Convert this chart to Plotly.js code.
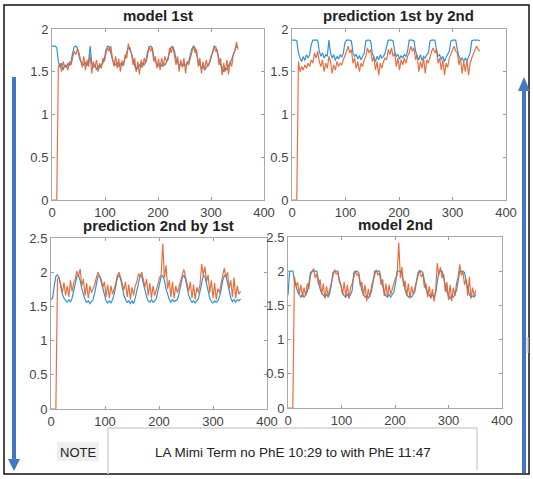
<!DOCTYPE html>
<html>
<head>
<meta charset="utf-8">
<script src="https://cdn.plot.ly/plotly-3.0.1.min.js"></script>
<style>
  html, body { margin: 0; padding: 0; background: #fff; }
  #chart { width: 533px; height: 479px; }
</style>
</head>
<body>
<div id="chart"></div>
<script>
// Sample positions shared by every series
const samples = [
  0,3,6,9,12,15,18,21,24,27,
  30,33,36,39,42,45,48,51,54,57,
  60,63,66,69,72,75,78,81,84,87,
  90,93,96,99,102,105,108,111,114,117,
  120,123,126,129,132,135,138,141,144,147,
  150,153,156,159,162,165,168,171,174,177,
  180,183,186,189,192,195,198,201,204,207,
  210,213,216,219,222,225,228,231,234,237,
  240,243,246,249,252,255,258,261,264,267,
  270,273,276,279,282,285,288,291,294,297,
  300,303,306,309,312,315,318,321,324,327,
  330,333,336,339,342,345,348,351
];

// model 1st
const model1Blue = [
  1.80,1.80,1.80,1.78,1.62,1.55,1.60,1.52,1.58,1.55,
  1.60,1.57,1.62,1.72,1.79,1.80,1.78,1.68,1.62,1.60,
  1.58,1.61,1.57,1.62,1.80,1.60,1.55,1.58,1.52,1.57,
  1.55,1.58,1.60,1.66,1.76,1.80,1.79,1.72,1.64,1.60,
  1.58,1.61,1.56,1.60,1.57,1.60,1.66,1.74,1.78,1.78,
  1.70,1.62,1.57,1.52,1.56,1.58,1.55,1.60,1.58,1.63,
  1.72,1.78,1.80,1.78,1.68,1.62,1.59,1.57,1.60,1.56,
  1.60,1.58,1.61,1.66,1.74,1.79,1.79,1.74,1.65,1.60,
  1.57,1.60,1.56,1.59,1.57,1.60,1.62,1.70,1.77,1.80,
  1.78,1.70,1.62,1.58,1.54,1.57,1.52,1.55,1.58,1.60,
  1.66,1.75,1.80,1.79,1.72,1.63,1.58,1.55,1.50,1.55,
  1.52,1.57,1.60,1.64,1.70,1.76,1.80,1.78
];
const model1Orange = [
  0,0,0,0,1.55,1.60,1.50,1.62,1.55,1.58,
  1.52,1.62,1.58,1.66,1.74,1.70,1.77,1.72,1.65,1.55,
  1.68,1.52,1.64,1.56,1.70,1.48,1.62,1.55,1.64,1.50,
  1.60,1.54,1.66,1.62,1.72,1.78,1.74,1.80,1.66,1.56,
  1.68,1.54,1.65,1.50,1.63,1.57,1.70,1.66,1.83,1.75,
  1.72,1.58,1.66,1.50,1.62,1.47,1.64,1.55,1.66,1.60,
  1.68,1.80,1.74,1.78,1.62,1.68,1.54,1.65,1.52,1.66,
  1.56,1.68,1.62,1.64,1.78,1.72,1.80,1.70,1.58,1.68,
  1.50,1.64,1.55,1.66,1.48,1.62,1.58,1.66,1.74,1.80,
  1.72,1.76,1.56,1.66,1.48,1.62,1.52,1.64,1.56,1.60,
  1.68,1.72,1.79,1.74,1.76,1.58,1.66,1.46,1.60,1.50,
  1.64,1.47,1.62,1.56,1.70,1.74,1.85,1.76
];

// prediction 1st by 2nd
const pred1Blue = [
  1.87,1.87,1.87,1.86,1.72,1.66,1.62,1.68,1.63,1.70,
  1.66,1.70,1.82,1.87,1.87,1.87,1.87,1.74,1.68,1.72,
  1.66,1.70,1.68,1.87,1.72,1.66,1.70,1.63,1.68,1.65,
  1.70,1.67,1.72,1.84,1.87,1.87,1.87,1.86,1.72,1.68,
  1.70,1.65,1.69,1.64,1.68,1.72,1.86,1.87,1.87,1.86,
  1.72,1.66,1.62,1.68,1.64,1.70,1.66,1.68,1.72,1.80,
  1.87,1.87,1.87,1.86,1.74,1.68,1.70,1.65,1.69,1.66,
  1.70,1.68,1.74,1.87,1.87,1.87,1.86,1.74,1.68,1.64,
  1.70,1.63,1.68,1.66,1.70,1.72,1.86,1.87,1.87,1.87,
  1.76,1.68,1.70,1.64,1.68,1.62,1.67,1.70,1.74,1.86,
  1.87,1.87,1.87,1.76,1.68,1.64,1.66,1.62,1.66,1.63,
  1.68,1.72,1.86,1.87,1.87,1.87,1.87,1.86
];
const pred1Orange = [
  0,0,0,0,1.62,1.50,1.56,1.52,1.58,1.54,
  1.60,1.56,1.64,1.60,1.72,1.66,1.74,1.62,1.56,1.64,
  1.50,1.60,1.54,1.68,1.62,1.48,1.58,1.52,1.62,1.56,
  1.60,1.58,1.64,1.68,1.74,1.80,1.72,1.76,1.60,1.66,
  1.54,1.62,1.50,1.60,1.56,1.64,1.68,1.78,1.72,1.76,
  1.62,1.68,1.52,1.62,1.46,1.60,1.54,1.62,1.66,1.64,
  1.76,1.70,1.78,1.68,1.72,1.56,1.66,1.52,1.64,1.58,
  1.66,1.60,1.68,1.72,1.80,1.74,1.78,1.64,1.70,1.50,
  1.62,1.54,1.66,1.48,1.64,1.60,1.68,1.74,1.78,1.72,
  1.76,1.60,1.66,1.52,1.64,1.46,1.60,1.55,1.66,1.70,
  1.76,1.80,1.74,1.72,1.58,1.66,1.48,1.62,1.50,1.64,
  1.46,1.60,1.66,1.70,1.74,1.80,1.76,1.74
];

// prediction 2nd by 1st
const pred2Blue = [
  1.60,1.62,1.80,1.94,1.96,1.92,1.80,1.68,1.62,1.58,
  1.56,1.60,1.56,1.62,1.72,1.84,1.94,1.95,1.88,1.76,
  1.66,1.60,1.56,1.58,1.54,1.58,1.60,1.70,1.84,1.94,
  1.95,1.86,1.74,1.64,1.58,1.55,1.58,1.55,1.60,1.68,
  1.80,1.92,1.96,1.90,1.78,1.66,1.60,1.56,1.58,1.54,
  1.58,1.54,1.62,1.74,1.88,1.95,1.94,1.84,1.72,1.64,
  1.58,1.56,1.60,1.56,1.58,1.62,1.72,1.82,1.94,1.95,
  1.88,1.76,1.66,1.60,1.56,1.60,1.57,1.58,1.60,1.68,
  1.80,1.92,1.96,1.90,1.78,1.66,1.60,1.56,1.58,1.55,
  1.58,1.62,1.72,1.86,1.95,1.94,1.84,1.70,1.62,1.57,
  1.55,1.58,1.56,1.58,1.64,1.74,1.88,1.95,1.94,1.84,
  1.70,1.62,1.57,1.60,1.56,1.60,1.58,1.61
];
const pred2Orange = [
  0,0,0,0,1.90,1.92,1.82,1.70,1.85,1.66,
  1.80,1.64,1.88,1.72,1.84,1.90,2.02,1.94,2.05,1.80,
  1.90,1.66,1.84,1.62,1.80,1.70,1.76,1.82,1.92,2.00,
  1.94,1.90,1.78,1.86,1.64,1.82,1.62,1.80,1.68,1.76,
  1.84,1.96,2.00,1.92,1.84,1.74,1.86,1.64,1.82,1.60,
  1.78,1.66,1.80,1.86,1.98,1.94,2.00,1.88,1.78,1.90,
  1.66,1.84,1.62,1.80,1.66,1.74,1.84,1.92,1.96,2.42,
  1.92,2.10,1.76,1.88,1.64,1.86,1.62,1.80,1.70,1.78,
  1.88,1.96,2.04,1.94,1.84,1.72,1.86,1.62,1.82,1.60,
  1.78,1.70,1.82,2.12,1.96,2.08,1.86,1.96,1.70,1.88,
  1.62,1.84,1.60,1.76,1.70,1.86,1.96,2.06,1.92,2.00,
  1.76,1.88,1.64,1.92,1.62,1.80,1.68,1.72
];

// model 2nd
const model2Blue = [
  1.65,2.00,2.00,2.00,1.86,1.76,1.70,1.66,1.62,1.66,
  1.62,1.66,1.70,1.82,1.98,2.00,2.00,2.00,2.00,1.86,
  1.74,1.68,1.64,1.62,1.66,1.62,1.68,1.80,1.98,2.00,
  2.00,2.00,1.88,1.76,1.68,1.64,1.62,1.66,1.62,1.66,
  1.72,1.98,2.00,2.00,1.98,1.84,1.72,1.66,1.62,1.64,
  1.60,1.66,1.70,1.84,2.00,2.00,2.00,2.00,1.88,1.76,
  1.68,1.64,1.62,1.66,1.62,1.66,1.70,1.82,2.00,2.00,
  2.00,1.96,1.82,1.72,1.66,1.62,1.64,1.62,1.66,1.70,
  1.84,1.98,2.00,2.00,1.98,1.86,1.74,1.68,1.64,1.62,
  1.65,1.62,1.68,1.84,2.00,2.00,2.00,1.90,1.78,1.70,
  1.64,1.60,1.64,1.62,1.66,1.72,1.86,2.00,2.00,2.00,
  1.98,1.84,1.74,1.66,1.62,1.64,1.62,1.66
];
const model2Orange = [
  0,0,0,0,1.92,1.78,1.84,1.66,1.80,1.62,
  1.76,1.64,1.82,1.74,1.94,1.98,2.04,1.90,1.96,1.80,
  1.88,1.66,1.82,1.60,1.78,1.64,1.74,1.84,1.92,2.02,
  1.96,1.98,1.84,1.80,1.66,1.84,1.62,1.80,1.60,1.76,
  1.82,1.90,2.00,1.94,1.96,1.78,1.84,1.64,1.80,1.56,
  1.74,1.62,1.78,1.86,1.96,2.02,1.94,1.98,1.80,1.88,
  1.64,1.82,1.62,1.80,1.66,1.76,1.82,1.90,1.94,2.42,
  1.90,2.06,1.78,1.86,1.64,1.82,1.60,1.78,1.66,1.76,
  1.86,1.94,2.02,1.92,1.96,1.76,1.82,1.62,1.78,1.60,
  1.74,1.56,1.72,2.12,1.94,2.06,1.90,1.96,1.70,1.84,
  1.58,1.80,1.56,1.76,1.64,1.82,1.92,2.10,1.94,2.00,
  1.80,1.88,1.64,1.92,1.60,1.76,1.64,1.72
];

const panelTitles = ['model 1st', 'prediction 1st by 2nd', 'prediction 2nd by 1st', 'model 2nd'];
const xTicks = [0, 100, 200, 300, 400];
const yTicksTop = [0, 0.5, 1, 1.5, 2];
const yTicksBottom = [0, 0.5, 1, 1.5, 2, 2.5];
const noteLabel = 'NOTE';
const noteText = 'LA Mimi Term no PhE 10:29 to with PhE 11:47';

const W = 533, H = 479;
const px = v => v / W;          // pixel column -> paper x
const py = v => 1 - v / H;      // pixel row -> paper y

const BLUE = '#2f94da';
const ORANGE = '#e4602c';
const FONT = 'Liberation Sans, Arial, sans-serif';

const series = [
  [model1Blue, model1Orange],
  [pred1Blue, pred1Orange],
  [pred2Blue, pred2Orange],
  [model2Blue, model2Orange]
];

const traces = [];
series.forEach((pair, k) => {
  const ax = k === 0 ? '' : String(k + 1);
  traces.push({
    x: samples, y: pair[0], type: 'scatter', mode: 'lines',
    xaxis: 'x' + ax, yaxis: 'y' + ax,
    line: { color: BLUE, width: 1.2 }, hoverinfo: 'skip'
  });
  traces.push({
    x: samples, y: pair[1], type: 'scatter', mode: 'lines',
    xaxis: 'x' + ax, yaxis: 'y' + ax,
    line: { color: ORANGE, width: 1.2 }, opacity: 0.9, hoverinfo: 'skip'
  });
});

// plot boxes in pixels: [left, right, top, bottom]
const boxes = [
  [52, 264, 29, 200],
  [292, 506, 29, 200],
  [51, 267, 238, 409],
  [288, 502, 237, 408]
];

function xAxis(b, anchor) {
  return {
    domain: [px(b[0]), px(b[1])], range: [0, 400], anchor: anchor,
    tickvals: xTicks, ticktext: xTicks.map(String),
    ticks: 'inside', ticklen: 3, tickcolor: '#9a9a9a',
    showline: true, linecolor: '#a8a8a8', linewidth: 1, mirror: 'allticks',
    showgrid: false, zeroline: false,
    tickfont: { family: FONT, size: 13, color: '#444' }, fixedrange: true
  };
}
function yAxis(b, ticks, top, anchor) {
  return {
    domain: [py(b[3]), py(b[2])], range: [0, top], anchor: anchor,
    tickvals: ticks, ticktext: ticks.map(String),
    ticks: 'inside', ticklen: 3, tickcolor: '#9a9a9a',
    showline: true, linecolor: '#a8a8a8', linewidth: 1, mirror: 'allticks',
    showgrid: false, zeroline: false,
    tickfont: { family: FONT, size: 13, color: '#444' }, fixedrange: true
  };
}

const titlePos = [[158, 16], [398, 16], [158, 225], [395, 224]];
const annotations = panelTitles.map((t, k) => ({
  text: '<b>' + t + '</b>', xref: 'paper', yref: 'paper',
  x: px(titlePos[k][0]), y: py(titlePos[k][1]),
  xanchor: 'center', yanchor: 'middle', showarrow: false,
  font: { family: FONT, size: 15, color: '#222' }
}));
annotations.push({
  text: noteLabel, xref: 'paper', yref: 'paper', x: px(78), y: py(452),
  xanchor: 'center', yanchor: 'middle', showarrow: false,
  font: { family: FONT, size: 13, color: '#222' }
});
annotations.push({
  text: noteText, xref: 'paper', yref: 'paper', x: px(293), y: py(452),
  xanchor: 'center', yanchor: 'middle', showarrow: false,
  font: { family: FONT, size: 13.5, color: '#222' }
});

const ARROW = '#4177c5';
const shapes = [
  // outer frame
  { type: 'rect', xref: 'paper', yref: 'paper', x0: px(4), x1: px(529), y0: py(474), y1: py(5),
    line: { color: '#111', width: 1.5 }, fillcolor: 'rgba(0,0,0,0)' },
  // NOTE label background
  { type: 'rect', xref: 'paper', yref: 'paper', x0: px(57), x1: px(99), y0: py(461), y1: py(442),
    line: { width: 0 }, fillcolor: '#efefef', layer: 'below' },
  // caption box edges
  { type: 'line', xref: 'paper', yref: 'paper', x0: px(108), x1: px(108), y0: py(428), y1: py(474),
    line: { color: '#d2d2d2', width: 1.5 } },
  { type: 'line', xref: 'paper', yref: 'paper', x0: px(108), x1: px(477), y0: py(428), y1: py(428),
    line: { color: '#d2d2d2', width: 1.5 } },
  { type: 'line', xref: 'paper', yref: 'paper', x0: px(477), x1: px(477), y0: py(428), y1: py(470),
    line: { color: '#d2d2d2', width: 1.5 } },
  // downward arrow on the left
  { type: 'line', xref: 'paper', yref: 'paper', x0: px(14), x1: px(14), y0: py(77), y1: py(460),
    line: { color: ARROW, width: 4 } },
  { type: 'path', xref: 'paper', yref: 'paper',
    path: `M ${px(8)} ${py(459)} L ${px(20)} ${py(459)} L ${px(14)} ${py(471)} Z`,
    fillcolor: ARROW, line: { width: 0 } },
  // upward arrow on the right
  { type: 'line', xref: 'paper', yref: 'paper', x0: px(524), x1: px(524), y0: py(90), y1: py(473),
    line: { color: ARROW, width: 4 } },
  { type: 'path', xref: 'paper', yref: 'paper',
    path: `M ${px(518)} ${py(91)} L ${px(530)} ${py(91)} L ${px(524)} ${py(77)} Z`,
    fillcolor: ARROW, line: { width: 0 } },
  // small grey mark by the right arrow
  { type: 'rect', xref: 'paper', yref: 'paper', x0: px(526.5), x1: px(528.5), y0: py(353), y1: py(337),
    line: { width: 0 }, fillcolor: '#d6d6d6' }
];

const layout = {
  width: W, height: H,
  margin: { l: 0, r: 0, t: 0, b: 0 },
  paper_bgcolor: '#fff', plot_bgcolor: '#fff',
  showlegend: false,
  xaxis: xAxis(boxes[0], 'y'), yaxis: yAxis(boxes[0], yTicksTop, 2, 'x'),
  xaxis2: xAxis(boxes[1], 'y2'), yaxis2: yAxis(boxes[1], yTicksTop, 2, 'x2'),
  xaxis3: xAxis(boxes[2], 'y3'), yaxis3: yAxis(boxes[2], yTicksBottom, 2.5, 'x3'),
  xaxis4: xAxis(boxes[3], 'y4'), yaxis4: yAxis(boxes[3], yTicksBottom, 2.5, 'x4'),
  annotations: annotations,
  shapes: shapes
};

Plotly.newPlot('chart', traces, layout, { staticPlot: true, displayModeBar: false });
</script>
</body>
</html>
